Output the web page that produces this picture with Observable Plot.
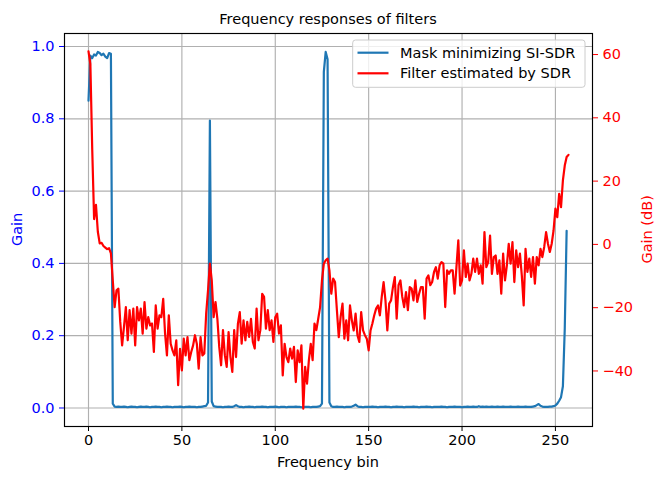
<!DOCTYPE html>
<html><head><meta charset="utf-8">
<script src="https://cdn.jsdelivr.net/npm/d3@7"></script>
<script src="https://cdn.jsdelivr.net/npm/@observablehq/plot@0.6"></script>
<style>body{margin:0;background:#fff;} #chart svg{display:block;}</style>
</head><body><div id="chart"></div>
<script>
// Mask minimizing SI-SDR (linear gain), bins 0..256
const maskGain = [
0.85,0.975,0.968,0.978,0.975,0.985,0.982,0.976,0.98,0.972,0.968,0.982,0.98,
0.012,0.004,0.003,0.004,0.003,0.003,0.004,0.003,0.002,0.003,
0.004,0.003,0.003,0.002,0.003,0.004,0.003,0.003,0.004,0.003,
0.002,0.003,0.003,0.004,0.003,0.003,0.002,0.003,0.003,0.004,
0.003,0.003,0.002,0.003,0.003,0.003,0.004,0.003,0.002,0.003,
0.003,0.004,0.003,0.003,0.003,0.002,0.003,0.003,0.004,0.005,
0.006,0.015,
0.795,0.018,0.005,
0.004,0.003,0.003,0.003,0.002,0.003,0.003,0.004,0.003,0.003,
0.005,0.008,0.005,0.003,0.003,0.002,0.003,0.003,0.004,0.003,
0.003,0.002,0.003,0.003,0.003,0.004,0.003,0.003,0.002,0.003,
0.003,0.003,0.004,0.003,0.002,0.003,0.003,0.003,0.002,0.003,
0.003,0.003,0.003,0.004,0.003,0.003,0.002,0.003,0.003,0.003,
0.003,0.002,0.003,0.003,0.003,0.004,0.005,
0.012,0.93,0.985,0.965,0.015,0.005,
0.003,0.003,0.004,0.003,0.003,0.003,0.002,0.003,0.003,0.003,
0.004,0.006,0.009,0.005,0.003,0.003,0.002,0.003,0.003,0.003,
0.003,0.004,0.003,0.003,0.002,0.003,0.003,0.003,0.004,0.003,
0.003,0.002,0.003,0.003,0.004,0.003,0.003,0.003,0.002,0.003,
0.003,0.003,0.003,0.004,0.003,0.003,0.002,0.003,0.003,0.003,
0.004,0.003,0.003,0.002,0.003,0.003,0.003,0.003,0.004,0.003,
0.003,0.002,0.003,0.003,0.003,0.004,0.003,0.003,0.003,0.002,
0.003,0.003,0.004,0.003,0.003,0.004,0.003,0.003,0.005,0.003,
0.004,0.003,0.004,0.003,0.003,0.004,0.003,0.003,0.004,0.003,
0.003,0.004,0.003,0.003,0.003,0.004,0.003,0.003,0.003,0.004,
0.003,0.003,0.003,0.004,0.003,0.003,0.003,0.004,0.005,
0.008,0.011,0.006,0.004,0.003,0.003,0.003,0.004,0.004,0.005,
0.007,0.012,0.02,0.03,0.06,0.22,0.49
];

// Filter estimated by SDR (dB), bins 0..257
const filterGainDb = [
61,57,30,8,12.5,4,0.3,0.5,-0.5,-1.0,
-1.5,-1.2,-2.8,-11.4,-19.8,-14.5,-14,-24.5,-31.9,-26.1,
-19.8,-30.3,-20.8,-28.2,-20.3,-31.9,-19.8,-24,-20.3,-28.2,
-18.2,-26.6,-23,-25.6,-25,-34,-19.3,-26.6,-22.4,-23,
-17.2,-28.2,-35.1,-22.4,-31.4,-33.5,-35.1,-30.3,-44.5,-33,
-39.8,-29.8,-35.1,-29.3,-36.6,-34,-31.9,-28.7,-31.4,-39.3,
-29.3,-35.1,-34.5,-21.9,-14.5,-6.1,-11.4,-23,-18.2,-23.5,
-32.4,-38.2,-27.1,-35,-38.7,-27.7,-35.6,-40.3,-27.1,-35.6,
-25.05,-21.4,-31.4,-24,-30.3,-24.5,-29.25,-23.5,-30.8,-32.9,
-20.3,-30.3,-27.1,-15.6,-16.6,-26.6,-20.8,-27.1,-24,-30.8,
-23,-21.9,-28.2,-25.6,-41.4,-31.4,-35.6,-37.2,-32.9,-36.1,
-32.4,-43.5,-33.5,-37.2,-31.9,-51.9,-38.7,-44,-36.6,-31.4,
-36.6,-25.05,-27.1,-23.5,-19.8,-11.4,-6.1,-5.0,-4.5,-8.2,
-15.6,-10.8,-11.9,-20.8,-29.3,-22.9,-18.7,-29.8,-24,-30.3,
-19.3,-24,-27.2,-21.9,-28.7,-30.8,-21.4,-27.2,-28.7,-29.8,
-33.5,-27.2,-25,-22.4,-20.3,-19.3,-22.4,-16.6,-11.9,-17.7,
-27.2,-18.7,-17.7,-13.5,-10.3,-23.5,-12.9,-11.4,-16.6,-19.8,
-15.1,-20.8,-13.5,-14,-17.7,-11.4,-18.2,-15.6,-13.5,-13.5,
-23.5,-10.8,-9.8,-12.9,-11.9,-8.7,-7.2,-10.8,-6.6,-5.6,
-6.1,-19.8,-8.2,-9.3,-8.2,-8.2,-15.6,-7.2,1.3,-13,
-11.4,-1.9,-10.3,-6.1,-11.4,-9.3,-4.5,-8.7,-4.5,-9.3,
-6.6,-12.4,3.9,-7.2,-5.6,2.8,-9.3,-4,-3.5,-9.3,
-5.05,-15.6,-2.9,-11.4,-6.6,0.2,-6.1,0.7,-11.9,-1.9,
-7.2,-2.9,-9.8,-19.3,-1.4,-8.7,-4.5,-10.3,-4,-12.4,
-4,-6.6,-1.4,-4,-0.8,3.9,0.2,-2.4,0.2,4.4,
11.3,8.6,16,11.8,20.2,24.9,27.6,28.3
];

const xTicks = [0, 50, 100, 150, 200, 250];
const gainTicks = [0, 0.2, 0.4, 0.6, 0.8, 1.0];
const dbTicks = [-40, -20, 0, 20, 40, 60];
const seriesNames = ["Mask minimizing SI-SDR", "Filter estimated by SDR"];
const titleText = "Frequency responses of filters";
const xLabel = "Frequency bin";
const yLabelLeft = "Gain";
const yLabelRight = "Gain (dB)";

const blue = "#1f77b4", red = "#ff0000";
const fs = 14.5;
const gainDomain = [-0.0512, 1.036];
const dbDomain = [-57.55, 66.65];
const dbToGain = d3.scaleLinear().domain(dbDomain).range(gainDomain);
const fmtDb = d3.format("d");

const maskData = maskGain.map((g, i) => ({bin: i, gain: g}));
const filterData = filterGainDb.map((d, i) => ({bin: i, db: d}));

const plot = Plot.plot({
  width: 664, height: 481,
  marginLeft: 64, marginRight: 72, marginTop: 33, marginBottom: 55,
  style: {fontFamily: "DejaVu Sans", fontSize: fs + "px", background: "white", color: "black"},
  x: {domain: [-12.85, 269.85]},
  y: {domain: gainDomain},
  marks: [
    Plot.gridX(xTicks, {stroke: "#b0b0b0", strokeOpacity: 1, strokeWidth: 1.15}),
    Plot.gridY(gainTicks, {stroke: "#b0b0b0", strokeOpacity: 1, strokeWidth: 1.15}),
    Plot.line(maskData, {x: "bin", y: "gain", stroke: blue, strokeWidth: 2.2}),
    Plot.line(filterData, {x: "bin", y: d => dbToGain(d.db), stroke: red, strokeWidth: 2.2}),
    Plot.frame({stroke: "black", strokeWidth: 1.15}),
    Plot.axisX(xTicks, {tickSize: 5, tickPadding: 3, label: null, fontSize: fs, color: "black"}),
    Plot.axisY(gainTicks, {anchor: "left", tickSize: 5, tickPadding: 5, color: "blue", fontSize: fs,
      tickFormat: d3.format(".1f"), label: null}),
    Plot.axisY(dbTicks.map(d => dbToGain(d)), {anchor: "right", tickSize: 5, tickPadding: 5, color: "red", fontSize: fs,
      tickFormat: v => fmtDb(Math.round(dbToGain.invert(v))), label: null})
  ]
});
document.getElementById("chart").appendChild(plot);

const svg = d3.select(plot);
const F = "DejaVu Sans";
svg.append("text").attr("x", 328).attr("y", 24).attr("text-anchor", "middle")
  .attr("font-family", F).attr("font-size", 14.5).attr("fill", "black").text(titleText);
svg.append("text").attr("x", 328).attr("y", 467).attr("text-anchor", "middle")
  .attr("font-family", F).attr("font-size", fs).attr("fill", "black").text(xLabel);
svg.append("text").attr("transform", "translate(21.5,229.4) rotate(-90)").attr("text-anchor", "middle")
  .attr("font-family", F).attr("font-size", fs).attr("fill", "blue").text(yLabelLeft);
svg.append("text").attr("transform", "translate(651.5,229.4) rotate(-90)").attr("text-anchor", "middle")
  .attr("font-family", F).attr("font-size", fs).attr("fill", "red").text(yLabelRight);

const leg = svg.append("g");
leg.append("rect").attr("x", 352.7).attr("y", 40).attr("width", 232.3).attr("height", 47.3).attr("rx", 2.8)
  .attr("fill", "white").attr("fill-opacity", 0.8).attr("stroke", "#cccccc").attr("stroke-width", 1);
[blue, red].forEach((c, i) => {
  const y = 52.7 + i * 20.6;
  leg.append("line").attr("x1", 357.5).attr("x2", 388.5).attr("y1", y).attr("y2", y)
    .attr("stroke", c).attr("stroke-width", 2.2);
  leg.append("text").attr("x", 400).attr("y", y + 5).attr("text-anchor", "start")
    .attr("font-family", F).attr("font-size", fs).attr("fill", "black").text(seriesNames[i]);
});
</script>
</body></html>
